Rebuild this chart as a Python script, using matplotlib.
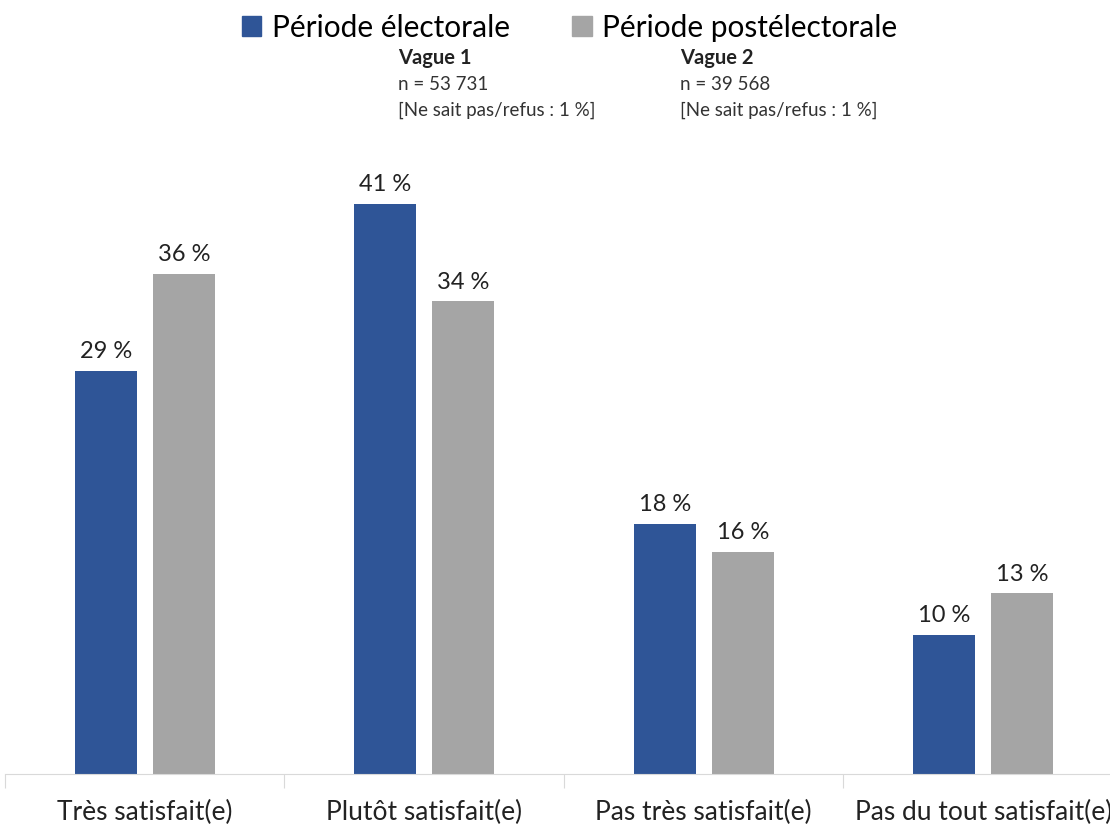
import matplotlib.pyplot as plt
import numpy as np
from matplotlib.patches import Patch

plt.rcParams['font.family'] = ['Lato', 'DejaVu Sans']

# Données
categories = ["Très satisfait(e)", "Plutôt satisfait(e)", "Pas très satisfait(e)", "Pas du tout satisfait(e)"]
electorale = [29, 41, 18, 10]
postelectorale = [36, 34, 16, 13]
series = ["Période électorale", "Période postélectorale"]
notes = [("Vague 1", "n = 53 731", "[Ne sait pas/refus : 1 %]"),
         ("Vague 2", "n = 39 568", "[Ne sait pas/refus : 1 %]")]

bleu = "#2F5597"
gris = "#A5A5A5"

fig = plt.figure(figsize=(11.1, 8.29), dpi=100)
ax = fig.add_axes([5/1110, 54/829, 1118/1110, 695/829])

x = np.arange(len(categories))
w = 62/279
dx = 39/279
b1 = ax.bar(x - dx, electorale, width=w, color=bleu)
b2 = ax.bar(x + dx, postelectorale, width=w, color=gris)
ax.bar_label(b1, labels=[f"{v} %" for v in electorale], padding=7, fontsize=17, color="#222222")
ax.bar_label(b2, labels=[f"{v} %" for v in postelectorale], padding=7, fontsize=17, color="#222222")

ax.set_xlim(-0.5, 3.5)
ax.set_ylim(0, 50)
ax.set_yticks([])
for s in ["top", "right", "left"]:
    ax.spines[s].set_visible(False)
ax.spines["bottom"].set_color("#d9d9d9")
ax.set_xticks(np.arange(-0.5, 4, 1), minor=False)
ax.set_xticklabels([])
ax.tick_params(axis="x", which="major", length=10, color="#d9d9d9")
ax.set_xticks(x, minor=True)
ax.set_xticklabels(categories, minor=True, fontsize=19, color="#222222")
ax.tick_params(axis="x", which="minor", length=0, pad=18)

# légende
handles = [Patch(color=bleu), Patch(color=gris)]
fig.legend(handles, series, loc="upper center", bbox_to_anchor=(0.513, 1.015), ncol=2,
           frameon=False, fontsize=21.5, handlelength=0.65, handleheight=0.65,
           handletextpad=0.35, columnspacing=2.1)

# notes
for xp, (t1, t2, t3) in zip([398, 680], notes):
    fig.text(xp/1110, 1 - 58/829, t1, fontsize=14.5, fontweight="bold", va="center", color="#222222")
    fig.text(xp/1110, 1 - 84/829, t2, fontsize=13.5, va="center", color="#333333")
    fig.text(xp/1110, 1 - 110/829, t3, fontsize=13.5, va="center", color="#333333")

fig.savefig("out.png", dpi=100)
